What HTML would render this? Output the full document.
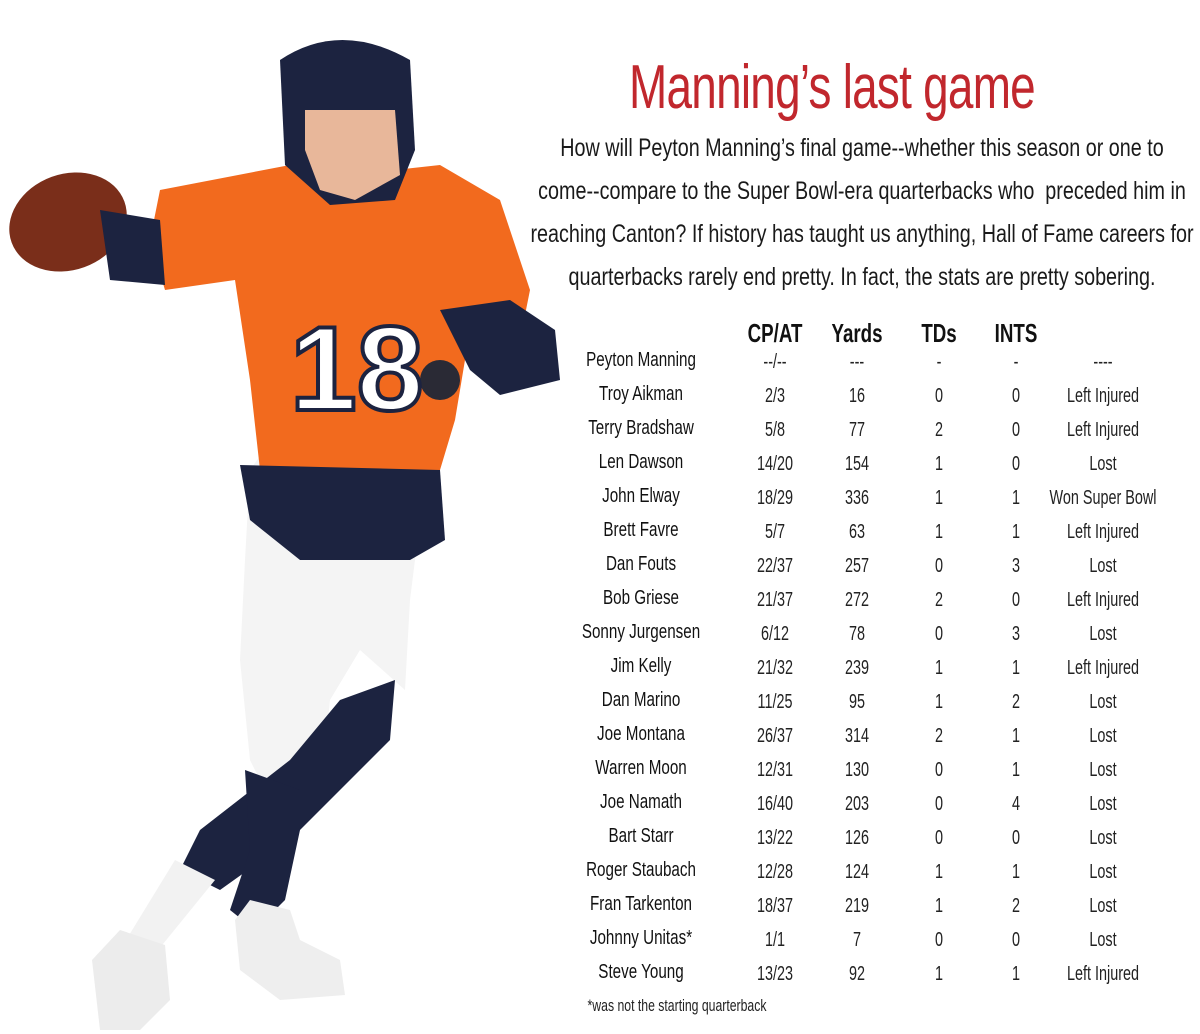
<!DOCTYPE html>
<html><head><meta charset="utf-8">
<style>
html,body{margin:0;padding:0;background:#fff;}
#root{position:relative;width:1200px;height:1034px;overflow:hidden;background:#fff;font-family:"Liberation Sans Narrow","Liberation Sans",sans-serif;}
.t{position:absolute;white-space:nowrap;transform:translateX(-50%);color:#111;}
#title{left:832px;top:52px;font-size:62px;color:#c1272d;transform:translateX(-50%) scaleX(0.74);letter-spacing:-1px;}
.p{font-size:25px;transform:translateX(-50%) scaleX(0.79);color:#1a1a1a;}
.h{font-size:26px;font-weight:bold;transform:translateX(-50%) scaleX(0.72);}
.c{font-size:20px;transform:translateX(-50%) scaleX(0.72);color:#222;}
.n{font-size:20px;font-weight:normal;transform:translateX(-50%) scaleX(0.76);color:#111;}
</style></head><body>
<div id="root">
<svg width="570" height="1034" style="position:absolute;left:0;top:0">
  <ellipse cx="68" cy="222" rx="60" ry="48" fill="#7a2e1a" transform="rotate(-20 68 222)"/>
  <path d="M300 400 L250 470 L245 560 L240 660 L250 760 L270 800 L320 800 L330 700 L360 650 L405 690 L410 600 L420 520 L420 470Z" fill="#f4f4f4"/>
  <path d="M395 680 L340 700 L290 760 L200 830 L180 870 L220 890 L290 840 L340 790 L390 740Z" fill="#1c2340"/>
  <path d="M245 770 L300 790 L300 830 L285 900 L255 930 L230 910 L250 850Z" fill="#1c2340"/>
  <path d="M175 860 L215 880 L150 960 L120 950Z" fill="#f2f2f2"/>
  <path d="M250 900 L290 910 L300 940 L340 960 L345 995 L280 1000 L240 970 L235 920Z" fill="#eeeeee"/>
  <path d="M120 930 L165 945 L170 1000 L140 1030 L100 1030 L92 960Z" fill="#ececec"/>
  <path d="M160 190 L290 165 L350 175 L440 165 L500 200 L530 290 L520 340 L470 330 L455 420 L440 470 L260 470 L250 380 L235 280 L165 290 L150 240Z" fill="#f26a1e"/>
  <path d="M240 465 L440 470 L445 540 L410 560 L300 560 L250 520Z" fill="#1c2340"/>
  <path d="M440 310 L510 300 L555 330 L560 380 L500 395 L470 370Z" fill="#1c2340"/>
  <path d="M100 210 L160 220 L165 285 L110 280Z" fill="#1c2340"/>
  <circle cx="440" cy="380" r="20" fill="#2a2a35"/>
  <path d="M280 60 Q340 20 410 60 L415 150 L395 200 L330 205 L285 165Z" fill="#1c2340"/>
  <path d="M305 110 L395 110 L400 175 L355 200 L320 190 L305 150Z" fill="#e8b79a"/>
  <text x="290" y="410" font-size="120" font-family="Liberation Sans Narrow,Liberation Sans,sans-serif" font-weight="bold" fill="#fff" stroke="#1c2340" stroke-width="4">18</text>
</svg>
<div id="title" class="t">Manning’s last game</div>
<div class="t p" style="left:862px;top:134px">How will Peyton Manning’s final game--whether this season or one to</div>
<div class="t p" style="left:862px;top:177px">come--compare to the Super Bowl-era quarterbacks who &nbsp;preceded him in</div>
<div class="t p" style="left:862px;top:220px">reaching Canton? If history has taught us anything, Hall of Fame careers for</div>
<div class="t p" style="left:862px;top:263px">quarterbacks rarely end pretty. In fact, the stats are pretty sobering.</div>
<div class="t h" style="left:775px;top:318px">CP/AT</div>
<div class="t h" style="left:857px;top:318px">Yards</div>
<div class="t h" style="left:939px;top:318px">TDs</div>
<div class="t h" style="left:1016px;top:318px">INTS</div>
<div id="rows"></div>
<div class="t c" style="left:677px;top:996px;font-size:17px">*was not the starting quarterback</div>
</div>
<script>
const players=["Peyton Manning","Troy Aikman","Terry Bradshaw","Len Dawson","John Elway","Brett Favre","Dan Fouts","Bob Griese","Sonny Jurgensen","Jim Kelly","Dan Marino","Joe Montana","Warren Moon","Joe Namath","Bart Starr","Roger Staubach","Fran Tarkenton","Johnny Unitas*","Steve Young"];
const cpat=["--/--","2/3","5/8","14/20","18/29","5/7","22/37","21/37","6/12","21/32","11/25","26/37","12/31","16/40","13/22","12/28","18/37","1/1","13/23"];
const yards=["---","16","77","154","336","63","257","272","78","239","95","314","130","203","126","124","219","7","92"];
const tds=["-","0","2","1","1","1","0","2","0","1","1","2","0","0","0","1","1","0","1"];
const ints=["-","0","0","0","1","1","3","0","3","1","2","1","1","4","0","1","2","0","1"];
const results=["----","Left Injured","Left Injured","Lost","Won Super Bowl","Left Injured","Lost","Left Injured","Lost","Left Injured","Lost","Lost","Lost","Lost","Lost","Lost","Lost","Lost","Left Injured"];
const root=document.getElementById('root');
function cell(cls,x,y,txt){const d=document.createElement('div');d.className='t '+cls;d.style.left=x+'px';d.style.top=y+'px';d.textContent=txt;


root.appendChild(d);}
players.forEach((p,i)=>{const y=349+i*34;
cell('n',641,y,p);cell('c',775,y+2,cpat[i]);cell('c',857,y+2,yards[i]);cell('c',939,y+2,tds[i]);cell('c',1016,y+2,ints[i]);cell('c',1103,y+2,results[i]);});
</script>
</body></html>
